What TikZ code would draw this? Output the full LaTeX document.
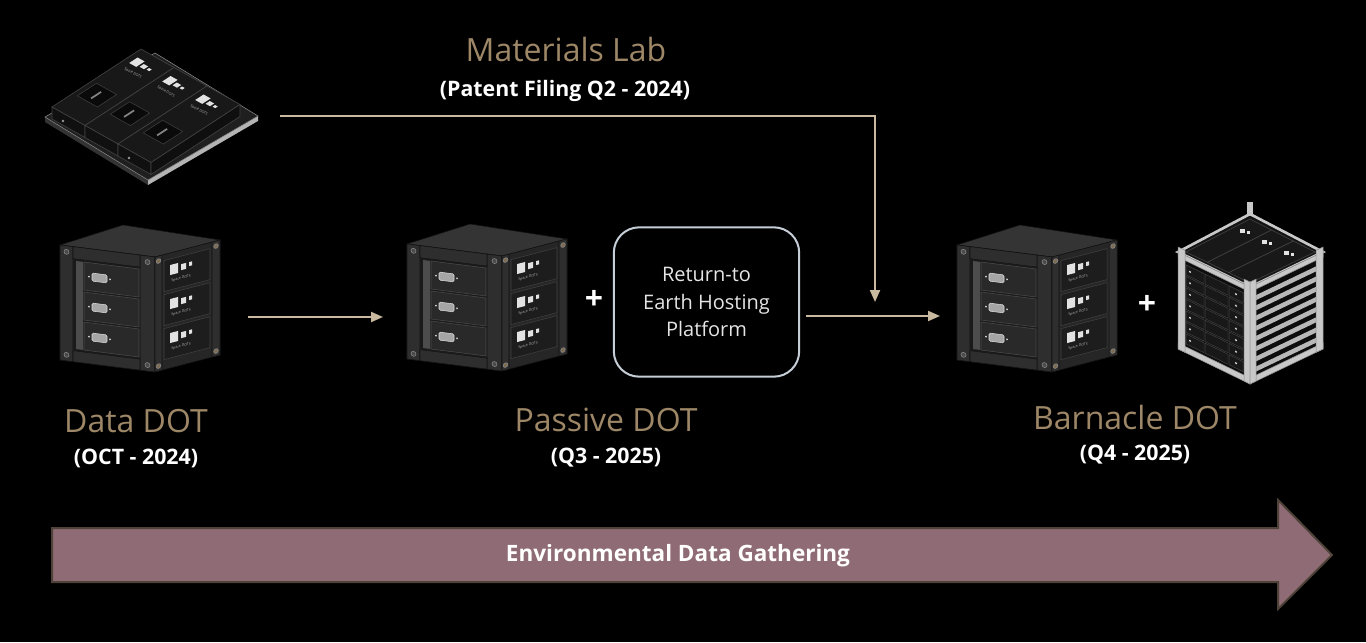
\documentclass[tikz,border=0pt]{standalone}
\usepackage{fontspec}
\setmainfont{Open Sans}
\usetikzlibrary{arrows.meta,calc}
\definecolor{tantext}{HTML}{9D8767}
\definecolor{tanline}{HTML}{C9B99F}
\definecolor{boxborder}{HTML}{C5CDD6}
\definecolor{barfill}{HTML}{8F6C75}
\definecolor{barborder}{HTML}{4F4339}
\definecolor{cubetop}{HTML}{343434}
\definecolor{cubeface}{HTML}{2A2A2A}
\definecolor{cubeside}{HTML}{262626}
\definecolor{cubepost}{HTML}{2E2E2E}
\definecolor{cubeedge}{HTML}{121212}
\definecolor{cubewin}{HTML}{1A1A1A}
\definecolor{stripgray}{HTML}{4C4C4C}
\definecolor{drawer}{HTML}{292929}
\definecolor{draweredge}{HTML}{4A4A4A}
\definecolor{conngray}{HTML}{A5A5A5}
\definecolor{connlight}{HTML}{DADADA}
\definecolor{screwfill}{HTML}{4A4A4A}
\definecolor{screwring}{HTML}{8A8A8A}
\definecolor{screwtan}{HTML}{7D6C52}
\definecolor{panelfill}{HTML}{1D1D1D}
\definecolor{paneledge}{HTML}{404040}
\definecolor{logowhite}{HTML}{E2E2E2}
\definecolor{railgray}{HTML}{C8C8C8}
\definecolor{railedge}{HTML}{8C8C8C}
\definecolor{modtop}{HTML}{181818}
\definecolor{modfront}{HTML}{101010}
\definecolor{modedge}{HTML}{404040}
\newcommand\bdpt[2]{($(ma)+#1*(0.873,0.489)+#2*(0.837,-0.546)$)}
\tikzset{
  flow/.style={draw=tanline, line width=1.5pt, -{Triangle[length=9pt,width=7.5pt]}},
  holder/.style={inner sep=0pt, outer sep=0pt},
  title/.style={text=tantext, font=\fontsize{24}{28}\selectfont, anchor=base, inner sep=0pt},
  subtitle/.style={text=white, font=\bfseries\fontsize{16}{19}\selectfont, anchor=base, inner sep=0pt},
  plussign/.style={text=white, font=\bfseries\fontsize{24}{28}\selectfont, inner sep=0pt},
  spacetext/.style={text=logowhite!80!black, font=\fontsize{2.6}{3}\selectfont, inner sep=0pt},
  pics/dotcube/.style={code={
    \filldraw[fill=cubetop, draw=cubeedge, line width=0.4pt] (0,0) -- (63,-20) -- (160,-5) -- (95,12) -- cycle;
    \begin{scope}[yslant=-0.1263]
      \filldraw[fill=cubeface, draw=cubeedge, line width=0.4pt] (0,0) rectangle (95,115);
      \filldraw[fill=cubepost, draw=cubeedge, line width=0.4pt] (0,0) rectangle (13,115);
      \filldraw[fill=cubepost, draw=cubeedge, line width=0.4pt] (80,0) rectangle (95,115);
      \filldraw[fill=cubepost, draw=cubeedge, line width=0.4pt] (13,0) rectangle (80,12);
      \filldraw[fill=cubepost, draw=cubeedge, line width=0.4pt] (13,104) rectangle (80,115);
      \fill[cubewin] (13,12) rectangle (80,104);
      \fill[stripgray] (16,14) rectangle (23,102);
      \foreach \k in {0,1,2}{
        \filldraw[fill=drawer, draw=draweredge, line width=0.4pt] (24,{14+\k*30}) rectangle (79,{42+\k*30});
        \filldraw[fill=conngray, draw=connlight, line width=0.4pt, rounded corners=1pt] (32,{24+\k*30}) rectangle (47,{32+\k*30});
        \fill[connlight] (29,{28+\k*30}) circle (1);
        \fill[connlight] (50,{28+\k*30}) circle (1);
      }
      \foreach \p in {(6.5,6),(87.5,6),(6.5,109),(87.5,109)}
        \filldraw[fill=screwfill, draw=screwring, line width=0.4pt] \p circle (2.5);
    \end{scope}
    \begin{scope}[shift={(95,12)}, yslant=0.2615]
      \filldraw[fill=cubeside, draw=cubeedge, line width=0.4pt] (0,0) rectangle (65,115);
      \filldraw[fill=cubepost, draw=cubeedge, line width=0.4pt] (0,0) rectangle (7,115);
      \filldraw[fill=cubepost, draw=cubeedge, line width=0.4pt] (57,0) rectangle (65,115);
      \foreach \k in {0,1,2}{
        \filldraw[fill=panelfill, draw=paneledge, line width=0.4pt] (9,{6+\k*34}) rectangle (55,{37+\k*34});
        \fill[logowhite] (15,{12+\k*34}) rectangle (23,{22+\k*34});
        \fill[logowhite] (26,{14+\k*34}) rectangle (31,{20+\k*34});
        \fill[logowhite] (34,{14+\k*34}) rectangle (37,{18+\k*34});
        \node[spacetext, transform shape] (-sd\k) at (26,{28+\k*34}) {Space DOTS};
      }
      \foreach \p in {(3.5,5),(61,5),(3.5,110),(61,110)}
        \filldraw[fill=screwtan, draw=screwring, line width=0.4pt] \p circle (2.3);
    \end{scope}
  }}
}
\begin{document}
\begin{tikzpicture}[x=0.75pt, y=-0.75pt]
\fill[black] (0,0) rectangle (1366,642);
\useasboundingbox (0,0) rectangle (1366,642);

% ---------- Materials Lab board ----------
\fill[black!80!white] (45,117) -- (148,180) -- (148,185) -- (45,122) -- cycle;
\fill[railgray!90!black] (148,180) -- (258,116) -- (258,121) -- (148,185) -- cycle;
\filldraw[fill=black!88!white, draw=railedge, line width=0.4pt] (45,117) -- (155,53) -- (258,116) -- (148,180) -- cycle;
\foreach \i in {0,1,2}{
  \coordinate (ma) at ({52+33*\i},{107+18.5*\i});
  \filldraw[fill=modtop, draw=modedge, line width=0.5pt] (ma) -- ++(33,18.5) -- ++(89,-58) -- ++(-33,-18.5) -- cycle;
  \filldraw[fill=modfront, draw=modedge, line width=0.5pt] (ma) -- ++(33,18.5) -- ++(0,12) -- ++(-33,-18.5) -- cycle;
  \filldraw[fill=black!96!white, draw=modedge, line width=0.4pt] \bdpt{5}{25} -- \bdpt{28}{25} -- \bdpt{28}{48} -- \bdpt{5}{48} -- cycle;
  \draw[connlight!60!black, line width=1.3pt] \bdpt{16}{30} -- \bdpt{16}{42};
  \fill[logowhite] \bdpt{6}{86} -- \bdpt{14}{86} -- \bdpt{14}{96} -- \bdpt{6}{96} -- cycle;
  \fill[logowhite] \bdpt{16}{88} -- \bdpt{21}{88} -- \bdpt{21}{93} -- \bdpt{16}{93} -- cycle;
  \fill[logowhite] \bdpt{23}{89} -- \bdpt{26}{89} -- \bdpt{26}{92} -- \bdpt{23}{92} -- cycle;
  \node[spacetext, rotate=-29.3] (bt\i) at \bdpt{18}{78} {Space DOTS};
}
\filldraw[fill=black!94!white, draw=modedge, line width=0.5pt] (151,162.5) -- (240,104.5) -- (240,116.5) -- (151,174.5) -- cycle;
\fill[connlight!70!black] (63,121) circle (1.4);
\fill[connlight!70!black] (129,158) circle (1.4);
\node[holder, minimum width=159pt, minimum height=90pt] (matboard) at (151,116) {};

% ---------- DOT cubes ----------
\pic (dcube) at (60,245) {dotcube};
\pic (pcube) at (407,244) {dotcube};
\pic (bcube) at (957,245) {dotcube};
\node[holder, minimum width=120pt, minimum height=82pt] (datacube) at (140,317) {};
\node[holder, minimum width=120pt, minimum height=82pt] (passivecube) at (487,317) {};
\node[holder, minimum width=120pt, minimum height=82pt] (barncube) at (1037,316) {};

% ---------- CubeSat frame ----------
\filldraw[fill=black!92!white, draw=railgray, line width=2pt] (1178,252) -- (1250,214) -- (1323,252) -- (1250,287) -- cycle;
\foreach \i in {0,1,2}{
  \coordinate (ps) at ($(1186,252)!{\i/3}!(1250,283)$);
  \coordinate (pe) at ($(1186,252)!{(\i+1)/3}!(1250,283)$);
  \coordinate (qs) at ($(1250,219)!{\i/3}!(1315,252)$);
  \coordinate (qe) at ($(1250,219)!{(\i+1)/3}!(1315,252)$);
  \filldraw[fill=modtop, draw=modedge, line width=0.5pt] (ps) -- (qs) -- (qe) -- (pe) -- cycle;
  \fill[logowhite] ($(ps)!0.82!(qs)+(2,4)$) rectangle ++(5,4);
  \fill[logowhite] ($(ps)!0.82!(qs)+(9,6)$) rectangle ++(3,3);
}
\fill[railgray] (1247,202) rectangle (1253,216);
\begin{scope}[shift={(1178,252)}, yslant=-0.486]
  \fill[black!95!white] (0,0) rectangle (72,97);
  \foreach \k in {0,...,6}{
    \filldraw[fill=modtop, draw=modedge, line width=0.4pt] (8,{9+\k*11.5}) rectangle (26,{19+\k*11.5});
    \filldraw[fill=modtop, draw=modedge, line width=0.4pt] (27,{9+\k*11.5}) rectangle (50,{19+\k*11.5});
    \filldraw[fill=modtop, draw=modedge, line width=0.4pt] (51,{9+\k*11.5}) rectangle (65,{19+\k*11.5});
    \fill[logowhite] (12,{14+\k*11.5}) circle (1.1);
    \fill[logowhite] (58,{14+\k*11.5}) circle (1.1);
  }
  \filldraw[fill=railgray, draw=railedge, line width=0.4pt] (0,0) rectangle (72,5);
  \filldraw[fill=railgray, draw=railedge, line width=0.4pt] (0,91) rectangle (72,97);
  \filldraw[fill=railgray, draw=railedge, line width=0.4pt] (0,-5) rectangle (7,97);
  \filldraw[fill=railgray, draw=railedge, line width=0.4pt] (66,-5) rectangle (72,97);
\end{scope}
\begin{scope}[shift={(1250,287)}, yslant=0.479]
  \fill[black!95!white] (0,0) rectangle (73,97);
  \foreach \k in {0,...,7}{
    \fill[railgray!92!black] (6,{11+\k*10.2}) rectangle (67,{16+\k*10.2});
  }
  \filldraw[fill=railgray, draw=railedge, line width=0.4pt] (0,0) rectangle (73,5);
  \filldraw[fill=railgray, draw=railedge, line width=0.4pt] (0,91) rectangle (73,97);
  \filldraw[fill=railgray, draw=railedge, line width=0.4pt] (0,-5) rectangle (6,97);
  \filldraw[fill=railgray, draw=railedge, line width=0.4pt] (66,-5) rectangle (73,97);
\end{scope}

% ---------- Return-to Earth box ----------
\node[draw=boxborder, line width=1.5pt, fill=black, rounded corners=19pt,
      minimum width=139pt, minimum height=112pt, inner sep=0pt, align=center,
      text=white!90!black, font=\fontsize{15}{20.6}\selectfont] (rtbox) at (706.5,302)
      {Return-to\\Earth Hosting\\Platform};

% ---------- plus signs ----------
\node[plussign] (plusone) at (594,300) {+};
\node[plussign] (plustwo) at (1147,305) {+};

% ---------- connectors ----------
\coordinate (merge) at (875,316);
\draw[flow, shorten <=21pt, shorten >=18pt] (datacube.east) -- (passivecube.west);
\draw[flow, shorten <=4.5pt, shorten >=12.75pt] (rtbox.east |- barncube.west) -- (barncube.west);
\draw[flow, shorten <=17.25pt, shorten >=10.5pt] (matboard.east) -| (merge);

% ---------- labels ----------
\node[title] (mattitle) at (566,62) {Materials Lab};
\node[subtitle] (matsub) at (565,96) {(Patent Filing Q2 - 2024)};
\node[title] (datatitle) at (136,432) {Data DOT};
\node[subtitle] (datasub) at (136,464) {(OCT - 2024)};
\node[title] (pastitle) at (606,431) {Passive DOT};
\node[subtitle] (passub) at (606,463) {(Q3 - 2025)};
\node[title] (barntitle) at (1135,429) {Barnacle DOT};
\node[subtitle] (barnsub) at (1135,460) {(Q4 - 2025)};

% ---------- bottom arrow ----------
\filldraw[fill=barfill, draw=barborder, line width=1.5pt, line join=miter]
  (52,528) -- (1278,528) -- (1278,500) -- (1332,555) -- (1278,609) -- (1278,582) -- (52,582) -- cycle;
\node[text=white, font=\bfseries\fontsize{16.9}{19}\selectfont, inner sep=0pt] (bartext) at (678,556) {Environmental Data Gathering};
\end{tikzpicture}
\end{document}
